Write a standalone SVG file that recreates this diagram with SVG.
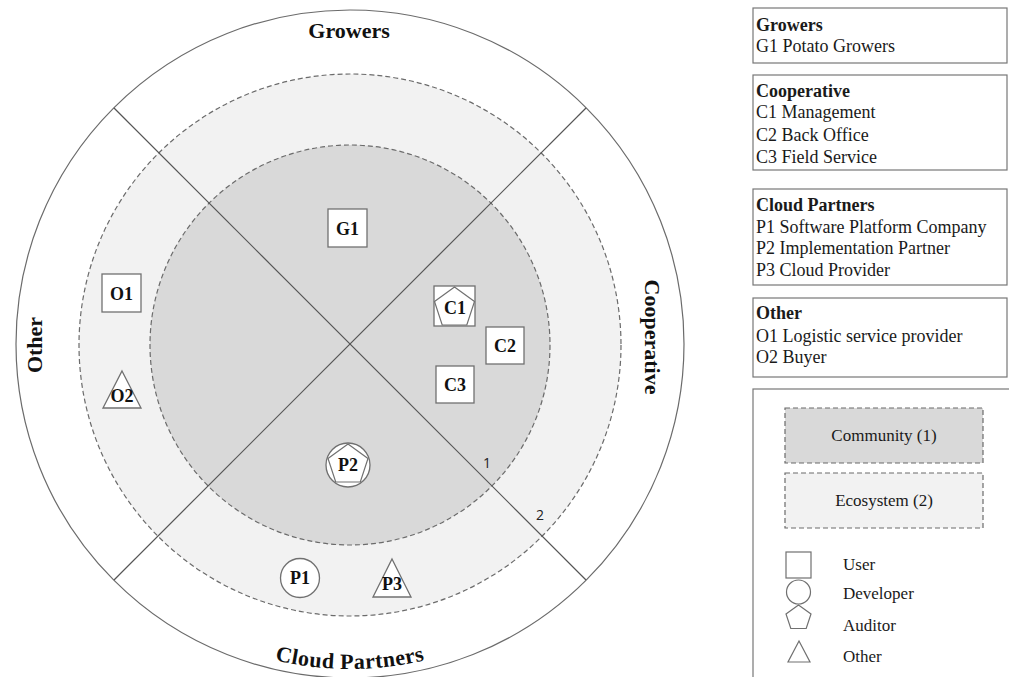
<svg xmlns="http://www.w3.org/2000/svg" width="1009" height="677" viewBox="0 0 1009 677">
  <style>
    .ring { stroke: #6b6b6b; stroke-width: 1.2; }
    .dash { stroke: #6b6b6b; stroke-width: 1.2; stroke-dasharray: 5 3; }
    .divider { stroke: #555; stroke-width: 1.2; fill: none; }
    .shape { fill: #fff; stroke: #707070; stroke-width: 1.3; }
    .inner { fill: none; stroke: #707070; stroke-width: 1.2; }
    .node-label { font-family: "Liberation Serif", "Times New Roman", serif; font-weight: bold; font-size: 18px; fill: #111; text-anchor: middle; }
    .sector { font-family: "Liberation Serif", "Times New Roman", serif; font-weight: bold; font-size: 22px; fill: #111; text-anchor: middle; }
    .ring-num { font-family: "Open Sans", "Liberation Sans", sans-serif; font-size: 14px; fill: #222; text-anchor: middle; }
    .box { fill: #fff; stroke: #777; stroke-width: 1.2; }
    .legend { font-family: "Liberation Serif", "Times New Roman", serif; font-size: 18px; fill: #1a1a1a; }
    .legend-head { font-weight: bold; }
    .key { font-family: "Liberation Serif", "Times New Roman", serif; font-size: 17px; fill: #1a1a1a; }
    .sym { fill: #fff; stroke: #707070; stroke-width: 1.2; }
  </style>
  <defs>
    <path id="bottomArc" d="M 26 345 A 324 324 0 0 0 674 345"/>
  </defs>

  <rect x="0" y="0" width="1009" height="677" fill="#fff"/>

  <!-- rings -->
  <g id="rings">
    <circle cx="350" cy="344" r="334" fill="#fff" class="ring"/>
    <circle cx="350" cy="345" r="271" fill="#f2f2f2" class="dash"/>
    <circle cx="350" cy="345" r="200" fill="#d9d9d9" class="dash"/>
  </g>

  <!-- sector dividers -->
  <g id="connectors">
    <line class="divider" x1="114" y1="108" x2="586" y2="580"/>
    <line class="divider" x1="586" y1="108" x2="114" y2="580"/>
  </g>

  <!-- ring numbers -->
  <text class="ring-num" x="487" y="468">1</text>
  <text class="ring-num" x="540" y="520">2</text>

  <!-- sector titles -->
  <text class="sector" x="349" y="38">Growers</text>
  <text class="sector" transform="translate(645,337) rotate(90)">Cooperative</text>
  <text class="sector" transform="translate(42,345) rotate(-90)">Other</text>
  <text class="sector" letter-spacing="0.5"><textPath href="#bottomArc" startOffset="50%">Cloud Partners</textPath></text>

  <!-- stakeholders -->
  <g id="node-G1">
    <rect class="shape" x="328" y="209" width="39" height="38"/>
    <text class="node-label" x="347.5" y="234.5">G1</text>
  </g>
  <g id="node-C1">
    <rect class="shape" x="434" y="286" width="41" height="40"/>
    <polygon class="inner" points="454.5,287 474.5,301.5 466.8,325 442.2,325 434.5,301.5"/>
    <text class="node-label" x="455" y="313.5">C1</text>
  </g>
  <g id="node-C2">
    <rect class="shape" x="486" y="327" width="38" height="37"/>
    <text class="node-label" x="505" y="352">C2</text>
  </g>
  <g id="node-C3">
    <rect class="shape" x="436" y="366" width="38" height="37"/>
    <text class="node-label" x="455" y="391">C3</text>
  </g>
  <g id="node-O1">
    <rect class="shape" x="102" y="274" width="39" height="38"/>
    <text class="node-label" x="121.5" y="299.5">O1</text>
  </g>
  <g id="node-O2">
    <polygon class="shape" points="122,371 141,408 103,408"/>
    <text class="node-label" x="122" y="402">O2</text>
  </g>
  <g id="node-P2">
    <circle class="shape" cx="348" cy="465" r="22"/>
    <polygon class="inner" points="348,444 368,458.5 360.3,482 335.7,482 328,458.5"/>
    <text class="node-label" x="348" y="471">P2</text>
  </g>
  <g id="node-P1">
    <circle class="shape" cx="300" cy="578" r="19.5"/>
    <text class="node-label" x="300" y="584">P1</text>
  </g>
  <g id="node-P3">
    <polygon class="shape" points="392,559 411,597 373,597"/>
    <text class="node-label" x="392" y="590">P3</text>
  </g>

  <!-- key: stakeholder groups -->
  <g id="key-growers">
    <rect class="box" x="753" y="8" width="254" height="55"/>
    <text class="legend legend-head" x="756" y="31">Growers</text>
    <text class="legend" x="756" y="52">G1 Potato Growers</text>
  </g>
  <g id="key-cooperative">
    <rect class="box" x="753" y="75" width="254" height="95"/>
    <text class="legend legend-head" x="756" y="97">Cooperative</text>
    <text class="legend" x="756" y="118">C1 Management</text>
    <text class="legend" x="756" y="141">C2 Back Office</text>
    <text class="legend" x="756" y="163">C3 Field Service</text>
  </g>
  <g id="key-cloud">
    <rect class="box" x="753" y="189" width="254" height="96"/>
    <text class="legend legend-head" x="756" y="211">Cloud Partners</text>
    <text class="legend" x="756" y="233">P1 Software Platform Company</text>
    <text class="legend" x="756" y="254">P2 Implementation Partner</text>
    <text class="legend" x="756" y="276">P3 Cloud Provider</text>
  </g>
  <g id="key-other">
    <rect class="box" x="753" y="298" width="254" height="79"/>
    <text class="legend legend-head" x="756" y="319">Other</text>
    <text class="legend" x="756" y="342">O1 Logistic service provider</text>
    <text class="legend" x="756" y="363">O2 Buyer</text>
  </g>

  <!-- key: zones and roles -->
  <g id="key-roles">
    <rect class="box" x="753" y="389" width="280" height="300"/>
    <rect x="785" y="408" width="198" height="55" fill="#d9d9d9" class="dash"/>
    <text class="key" x="884" y="441" text-anchor="middle">Community (1)</text>
    <rect x="785" y="473" width="198" height="55" fill="#f2f2f2" class="dash"/>
    <text class="key" x="884" y="506" text-anchor="middle">Ecosystem (2)</text>

    <rect class="sym" x="786" y="552" width="25" height="26"/>
    <text class="key" x="843" y="570">User</text>
    <circle class="sym" cx="798.5" cy="592" r="12"/>
    <text class="key" x="843" y="599">Developer</text>
    <polygon class="sym" points="798.5,605 811,614 806.2,628.5 790.8,628.5 786,614"/>
    <text class="key" x="843" y="631">Auditor</text>
    <polygon class="sym" points="799,641 810,662 788,662"/>
    <text class="key" x="843" y="662">Other</text>
  </g>
</svg>
